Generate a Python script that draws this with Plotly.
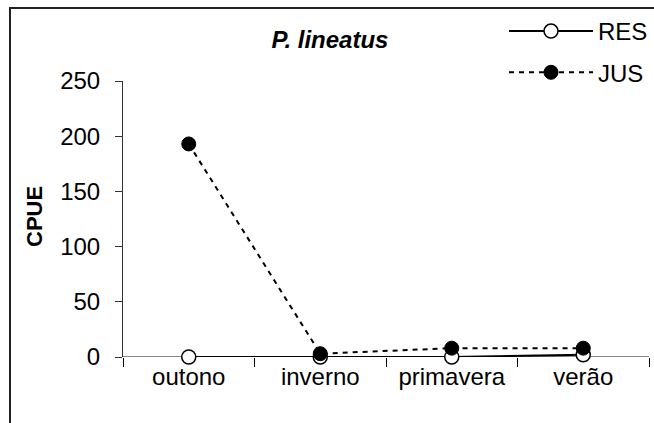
import plotly.graph_objects as go

categories = ["outono", "inverno", "primavera", "verão"]
res_values = [0, 0, 0, 2]
jus_values = [193, 3, 8, 8]
y_ticks = [0, 50, 100, 150, 200, 250]

FONT = "Liberation Sans, Arial, sans-serif"
FS = 24

# plot-area pixel geometry
L, R, T, B = 123, 5, 81, 66
W, H = 654, 423
pw, ph = W - L - R, H - T - B

def px_x(x):
    return (x - L) / pw

def px_y(y):
    return (H - B - y) / ph

fig = go.Figure()
fig.add_trace(go.Scatter(
    x=categories, y=res_values, name="RES", mode="lines+markers",
    line=dict(color="black", width=2),
    marker=dict(symbol="circle", size=14, color="white",
                line=dict(color="black", width=1.5)),
    cliponaxis=False, legendgroup="a",
))
fig.add_trace(go.Scatter(
    x=categories, y=jus_values, name="JUS", mode="lines+markers",
    line=dict(color="black", width=2, dash="5px,5px"),
    marker=dict(symbol="circle", size=14, color="black",
                line=dict(color="black", width=1)),
    cliponaxis=False, legendgroup="b",
))

fig.update_layout(
    width=W, height=H,
    margin=dict(l=L, r=R, t=T, b=B, pad=0, autoexpand=False),
    paper_bgcolor="white", plot_bgcolor="white",
    font=dict(family=FONT, size=FS, color="black"),
    showlegend=True,
    legend=dict(
        x=px_x(504), y=px_y(9), xanchor="left", yanchor="top",
        bgcolor="rgba(0,0,0,0)", itemwidth=84,
        traceorder="grouped", tracegroupgap=7,
        font=dict(family=FONT, size=FS, color="black"),
    ),
    title=dict(
        text="<b><i>P. lineatus</i></b>", x=330 / W, xanchor="center",
        y=1 - 40 / H, yanchor="middle", xref="container", yref="container",
        font=dict(family=FONT, size=FS, color="black"),
    ),
    xaxis=dict(
        type="category", range=[-0.5, 3.5], tickson="boundaries",
        showgrid=False, zeroline=False, showline=False, automargin=False,
        ticks="outside", ticklen=9, tickcolor="black", tickwidth=1,
        tickfont=dict(family=FONT, size=FS),
        ticklabelstandoff=3,
    ),
    yaxis=dict(
        range=[0, 250], tickvals=y_ticks, showgrid=False, automargin=False,
        zeroline=False, showline=True, linecolor="#333333", linewidth=1,
        ticks="outside", ticklen=7, tickcolor="#333333", tickwidth=1,
        tickfont=dict(family=FONT, size=FS), ticklabelstandoff=10,
    ),
    shapes=[
        # gray baseline at y=0
        dict(type="line", xref="paper", yref="y", x0=0, x1=1, y0=0, y1=0,
             line=dict(color="#888888", width=2), layer="below"),
        # outer chart border (left and top visible)
        dict(type="rect", xref="paper", yref="paper",
             x0=px_x(10), x1=px_x(700), y0=px_y(440), y1=px_y(8),
             line=dict(color="#222222", width=2), layer="below"),
    ],
    annotations=[
        dict(text="<b>CPUE</b>", xref="paper", yref="paper",
             x=px_x(34), y=px_y(217), textangle=-90, showarrow=False,
             xanchor="center", yanchor="middle",
             font=dict(family=FONT, size=22, color="black")),
    ],
)

fig.write_html("out.html")
